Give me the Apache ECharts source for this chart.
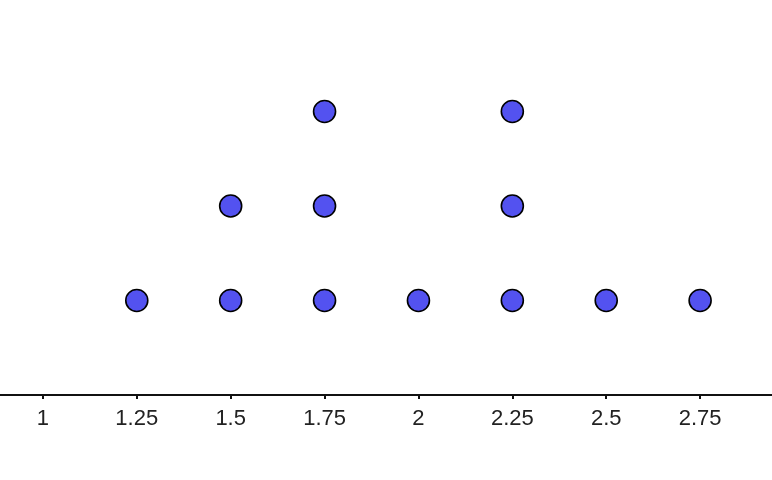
<!DOCTYPE html>
<html>
<head>
<meta charset="utf-8">
<script src="https://cdn.jsdelivr.net/npm/echarts@6/dist/echarts.min.js"></script>
<style>
  html, body { margin: 0; padding: 0; background: #fff; }
  #chart { width: 772px; height: 480px; }
</style>
</head>
<body>
<div id="chart"></div>
<script>
// dot plot values: each value with how many times it occurs
const values = [1.25, 1.5, 1.75, 2, 2.25, 2.5, 2.75];
const counts = [1, 2, 3, 1, 3, 1, 1];
const tickLabels = ['1', '1.25', '1.5', '1.75', '2', '2.25', '2.5', '2.75'];

const points = [];
values.forEach((v, i) => {
  for (let k = 1; k <= counts[i]; k++) {
    points.push([v, k]);
  }
});

const myChart = echarts.init(document.getElementById('chart'));
myChart.setOption({
  backgroundColor: '#fff',
  animation: false,
  grid: {
    left: -51,
    right: -22,
    top: 0,
    bottom: 85,
    containLabel: false,
    outerBoundsMode: 'none',
  },
  xAxis: {
    type: 'value',
    min: 0.75,
    max: 3,
    interval: 0.25,
    splitLine: { show: false },
    axisLine: { show: true, onZero: false, lineStyle: { color: '#111', width: 2 } },
    axisTick: { show: true, length: 4, lineStyle: { color: '#111', width: 2 } },
    axisLabel: {
      margin: 13,
      color: '#222',
      fontSize: 22,
      fontFamily: 'Liberation Sans, Arial, sans-serif',
      formatter(value) {
        const s = String(Math.round(value * 100) / 100);
        return tickLabels.indexOf(s) >= 0 ? s : '';
      },
    },
  },
  yAxis: {
    type: 'value',
    min: 0,
    max: 4.18,
    show: false,
  },
  series: [{
    type: 'scatter',
    data: points,
    symbol: 'circle',
    symbolSize: 22,
    itemStyle: {
      color: '#5352F0',
      borderColor: '#000',
      borderWidth: 1.6,
      opacity: 1,
    },
  }],
});
</script>
</body>
</html>
